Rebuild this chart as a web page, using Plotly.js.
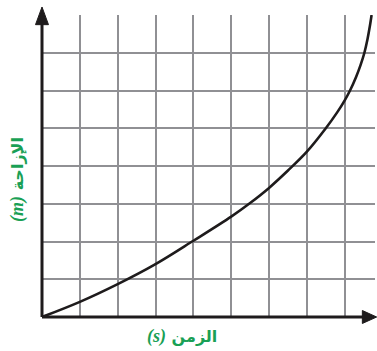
<!DOCTYPE html>
<html>
<head>
<meta charset="utf-8">
<script src="https://cdn.plot.ly/plotly-3.0.1.min.js"></script>
<style>html,body{margin:0;padding:0;background:#fff;}#chart{width:377px;height:351px;}</style>
</head>
<body>
<div id="chart"></div>
<script>
// time (grid units) and displacement (grid units)
var timeValues = [0, 1, 2, 3, 4, 5, 5.5, 6, 6.5, 7, 7.5, 7.8, 8, 8.14, 8.3, 8.42, 8.52, 8.6, 8.66, 8.71];
var displacementValues = [0, 0.40, 0.87, 1.40, 2.02, 2.66, 3.02, 3.42, 3.88, 4.38, 5.0, 5.42, 5.74, 6.0, 6.36, 6.68, 7.0, 7.35, 7.68, 8.0];
var xTicks = [0, 1, 2, 3, 4, 5, 6, 7, 8];
var yTicks = [0, 1, 2, 3, 4, 5, 6, 7, 8];
var xLabel = '<span style="font-family:Liberation Serif;font-size:18px"><b><i>(s)</i></b></span> الزمن';
var yLabel = '<span style="font-family:Liberation Serif;font-size:18px"><b><i>(m)</i></b></span> الإزاحة';

var green = '#19a055';
var grid = '#909094';

var trace = {
  x: timeValues, y: displacementValues, type: 'scatter', mode: 'lines',
  line: {color: '#1e1b1c', width: 2.6, shape: 'spline', smoothing: 1},
  hoverinfo: 'skip', cliponaxis: false
};

var layout = {
  width: 377, height: 351,
  margin: {l: 42, r: 2, t: 15, b: 34},
  paper_bgcolor: '#fff', plot_bgcolor: '#fff',
  showlegend: false,
  xaxis: {range: [0, 8.8], tickvals: xTicks, showticklabels: false, ticks: '',
          showgrid: true, gridcolor: grid, gridwidth: 2, zeroline: false, showline: false, fixedrange: true},
  yaxis: {range: [0, 8], tickvals: yTicks, showticklabels: false, ticks: '',
          showgrid: true, gridcolor: grid, gridwidth: 2, zeroline: false, showline: false, fixedrange: true},
  shapes: [
    {type: 'line', xref: 'paper', yref: 'paper', x0: 0, x1: 0, y0: 0, y1: 0.99, line: {color: '#1e1b1c', width: 3}},
    {type: 'line', xref: 'paper', yref: 'paper', x0: 0, x1: 0.975, y0: 0, y1: 0, line: {color: '#1e1b1c', width: 3}},
    {type: 'path', xref: 'paper', yref: 'paper', path: 'M -0.0195 0.968 L 0 1.0265 L 0.0195 0.968 Z', fillcolor: '#1e1b1c', line: {color: '#1e1b1c', width: 1}},
    {type: 'path', xref: 'paper', yref: 'paper', path: 'M 0.962 0.0215 L 1.005 0 L 0.962 -0.0215 Z', fillcolor: '#1e1b1c', line: {color: '#1e1b1c', width: 1}}
  ],
  annotations: [
    {xref: 'paper', yref: 'paper', x: 0.419, y: -0.066, text: xLabel, showarrow: false,
     xanchor: 'center', yanchor: 'middle', font: {family: 'DejaVu Sans', size: 16, color: green, weight: 'bold'}},
    {xref: 'paper', yref: 'paper', x: -0.072, y: 0.454, text: yLabel, showarrow: false, textangle: -90,
     xanchor: 'center', yanchor: 'middle', font: {family: 'DejaVu Sans', size: 16, color: green, weight: 'bold'}}
  ]
};

Plotly.newPlot('chart', [trace], layout, {displayModeBar: false, staticPlot: true});
</script>
</body>
</html>
